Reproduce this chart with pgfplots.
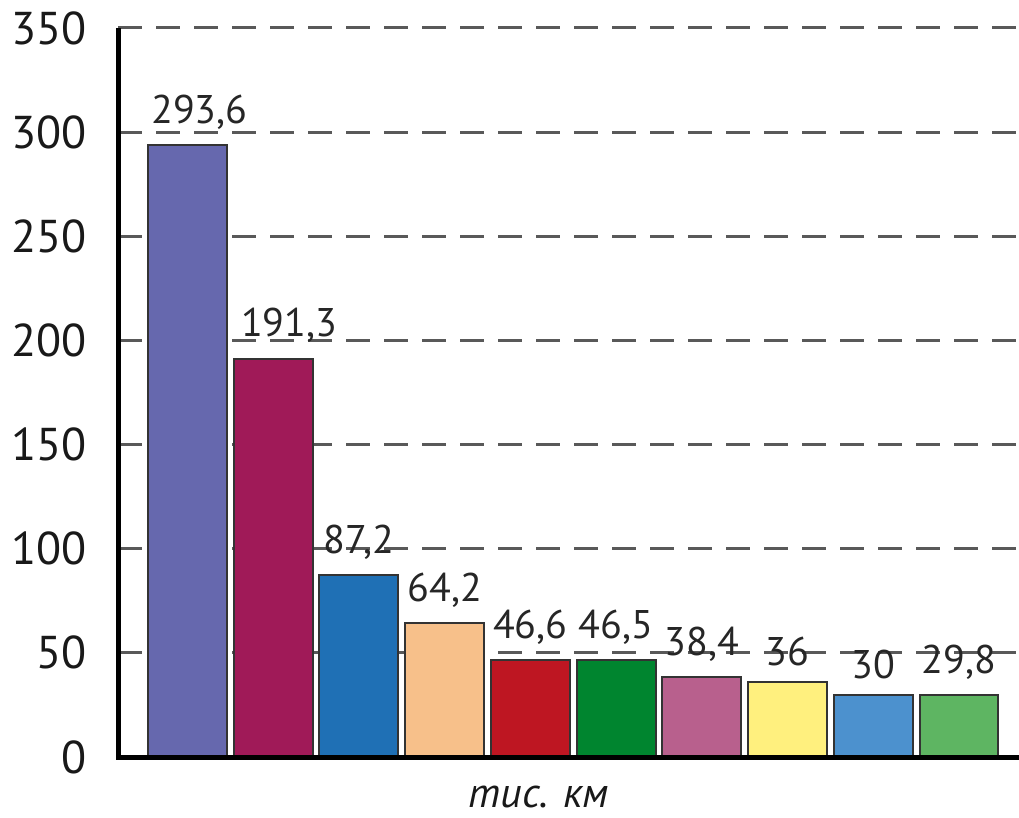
\documentclass[border=0pt]{standalone}
\usepackage{fontspec}
\setmainfont{PT Sans}
\usepackage{pgfplots}
\pgfplotsset{compat=1.18}
\definecolor{c1}{RGB}{102,104,174}
\definecolor{c2}{RGB}{160,26,88}
\definecolor{c3}{RGB}{31,112,181}
\definecolor{c4}{RGB}{247,192,138}
\definecolor{c5}{RGB}{190,22,34}
\definecolor{c6}{RGB}{0,133,47}
\definecolor{c7}{RGB}{184,96,141}
\definecolor{c8}{RGB}{255,240,126}
\definecolor{c9}{RGB}{76,145,206}
\definecolor{c10}{RGB}{94,181,98}
\begin{document}
\begin{tikzpicture}
\begin{axis}[
 scale only axis, width=450.5pt, height=364.5pt,
 xmin=-0.81, xmax=9.7, ymin=0, ymax=350,
 axis lines*=left, axis line style={line width=2.5pt},
 ytick={0,50,...,350}, xtick=\empty,
 major tick length=0pt,
 ymajorgrids, major grid style={draw=black!65, line width=1.5pt, dash pattern=on 12pt off 7pt},
 yticklabel style={font=\fontsize{23}{23}\selectfont, text=black!90, xshift=-12pt},
 /pgf/number format/assume math mode=true,
 ybar, bar width=0.92, bar shift=0pt,
 every axis plot/.append style={draw=black!80, line width=1pt},
 nodes near coords, point meta=explicit symbolic,
 every node near coord/.append style={font=\fontsize{20}{20}\selectfont, text=black!85, yshift=4pt},
 clip=false,
]
\addplot[fill=c1, every node near coord/.append style={xshift=6pt}] coordinates {(0,293.6) [293,6]};
\addplot[fill=c2, every node near coord/.append style={xshift=8pt}] coordinates {(1,191.3) [191,3]};
\addplot[fill=c3] coordinates {(2,87.2) [87,2]};
\addplot[fill=c4] coordinates {(3,64.2) [64,2]};
\addplot[fill=c5] coordinates {(4,46.6) [46,6]};
\addplot[fill=c6] coordinates {(5,46.5) [46,5]};
\addplot[fill=c7] coordinates {(6,38.4) [38,4]};
\addplot[fill=c8] coordinates {(7,36) [36]};
\addplot[fill=c9] coordinates {(8,30) [30]};
\addplot[fill=c10] coordinates {(9,29.8) [29,8]};
\draw[line width=2.5pt] (rel axis cs:0,1) -- (rel axis cs:0,0) -- (rel axis cs:1,0);
\node[font=\fontsize{21}{21}\selectfont\itshape, text=black!90] at (rel axis cs:0.467,0) [yshift=-20pt] {тис. км};
\end{axis}
\pgfresetboundingbox
\useasboundingbox ([xshift=-59pt,yshift=-30pt]current axis.south west) rectangle ([yshift=14pt]current axis.north east);
\end{tikzpicture}
\end{document}
